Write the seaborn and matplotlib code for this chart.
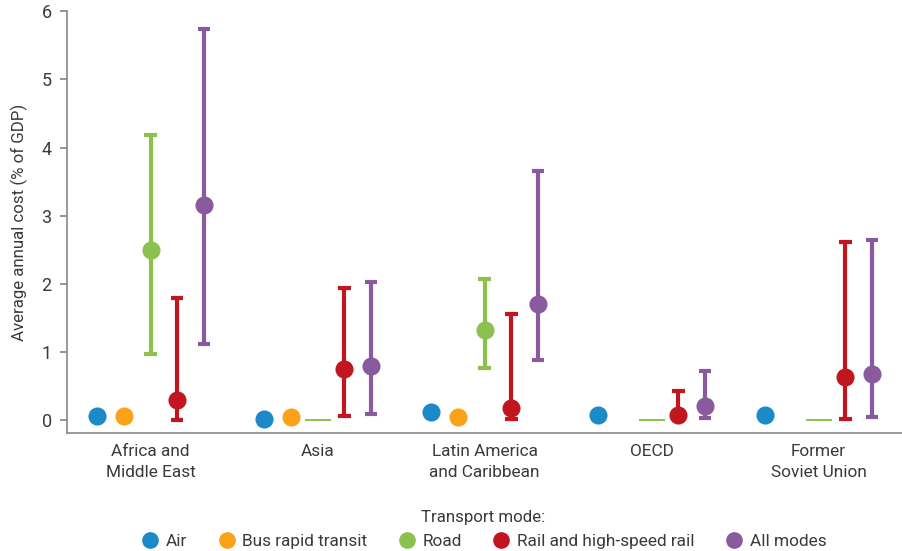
import numpy as np
import pandas as pd
import matplotlib
matplotlib.use("Agg")
import matplotlib.pyplot as plt
import seaborn as sns
from matplotlib.lines import Line2D

regions = ["Africa and\nMiddle East", "Asia", "Latin America\nand Caribbean", "OECD", "Former\nSoviet Union"]
modes = ["Air", "Bus rapid transit", "Road", "Rail and high-speed rail", "All modes"]
colors = ["#1c8ac8", "#fba21a", "#8dc14f", "#c1161f", "#8a5a9e"]

# central values (NaN = no data)
air_mid = [0.07, 0.02, 0.12, 0.08, 0.08]
brt_mid = [0.06, 0.05, 0.05, np.nan, np.nan]
road_mid = [2.50, 0.0, 1.32, 0.0, 0.0]
road_low = [0.97, 0.0, 0.77, 0.0, 0.0]
road_high = [4.18, 0.0, 2.08, 0.0, 0.0]
rail_mid = [0.30, 0.75, 0.18, 0.08, 0.64]
rail_low = [0.01, 0.07, 0.02, 0.01, 0.02]
rail_high = [1.80, 1.94, 1.56, 0.43, 2.61]
all_mid = [3.16, 0.80, 1.70, 0.21, 0.68]
all_low = [1.12, 0.09, 0.89, 0.03, 0.05]
all_high = [5.73, 2.03, 3.66, 0.73, 2.65]

rows = []
for i, r in enumerate(regions):
    rows.append((r, "Air", air_mid[i]))
    if not np.isnan(brt_mid[i]):
        rows.append((r, "Bus rapid transit", brt_mid[i]))
    if road_high[i] > 0:
        for v in (road_low[i], road_mid[i], road_high[i]):
            rows.append((r, "Road", v))
    for v in (rail_low[i], rail_mid[i], rail_high[i]):
        rows.append((r, "Rail and high-speed rail", v))
    for v in (all_low[i], all_mid[i], all_high[i]):
        rows.append((r, "All modes", v))
df = pd.DataFrame(rows, columns=["region", "mode", "cost"])

zero_rows = [(r, "Road", 0.0) for i, r in enumerate(regions) if road_high[i] == 0]
df_zero = pd.DataFrame(zero_rows, columns=["region", "mode", "cost"])

sns.set_theme(style="white")
plt.rcParams['font.family'] = ['Roboto', 'DejaVu Sans']
txt = "#3a3a3a"

fig = plt.figure(figsize=(9.03, 5.51), dpi=100)
ax = fig.add_axes([0.0742, 0.214, 0.9248, 0.766])

pal = dict(zip(modes, colors))
sns.pointplot(data=df, x="region", y="cost", hue="mode", order=regions, hue_order=modes,
              palette=pal, estimator="median", errorbar=("pi", 100), dodge=0.64,
              linestyle="none", markers="o", markersize=11, capsize=0.075,
              err_kws={"linewidth": 3.0, "solid_capstyle": "butt"}, legend=False, ax=ax)
sns.pointplot(data=df_zero, x="region", y="cost", hue="mode", order=regions, hue_order=modes,
              palette=pal, estimator="median", errorbar=None, dodge=0.64,
              linestyle="none", markers="_", markersize=19, markeredgewidth=1.4,
              legend=False, ax=ax)

ax.set_xlim(-0.5, 4.5)
ax.set_ylim(-0.185, 6.0)
ax.set_yticks(range(0, 7))
ax.set_xlabel("")
ax.set_ylabel("Average annual cost (% of GDP)", fontsize=12.2, color=txt, labelpad=10)
for s in ["top", "right"]:
    ax.spines[s].set_visible(False)
for s in ["left", "bottom"]:
    ax.spines[s].set_color("#888888")
    ax.spines[s].set_linewidth(1.2)
ax.set_xticks(np.arange(-0.5, 5.0, 1.0), minor=True)
ax.tick_params(axis="x", which="major", length=0, labelsize=12.4, colors=txt, pad=8)
ax.tick_params(axis="x", which="minor", length=6, color="#888888", direction="out", width=1)
ax.tick_params(axis="y", length=5, color="#888888", direction="out", labelsize=13, colors=txt,
               left=True, pad=6)
for lab in ax.get_xticklabels():
    lab.set_linespacing(1.5)

handles = [Line2D([0], [0], marker="o", linestyle="none", markersize=11,
                  markerfacecolor=c, markeredgecolor=c) for c in colors]
leg = fig.legend(handles, modes, loc="lower center", bbox_to_anchor=(0.535, -0.024), ncol=5,
                 frameon=False, title="Transport mode:", fontsize=12.4, title_fontsize=12.2,
                 handletextpad=0.3, columnspacing=1.7, handlelength=1.2)
for t in leg.get_texts():
    t.set_color(txt)
leg.get_title().set_color(txt)

fig.savefig("out.png", dpi=100)
